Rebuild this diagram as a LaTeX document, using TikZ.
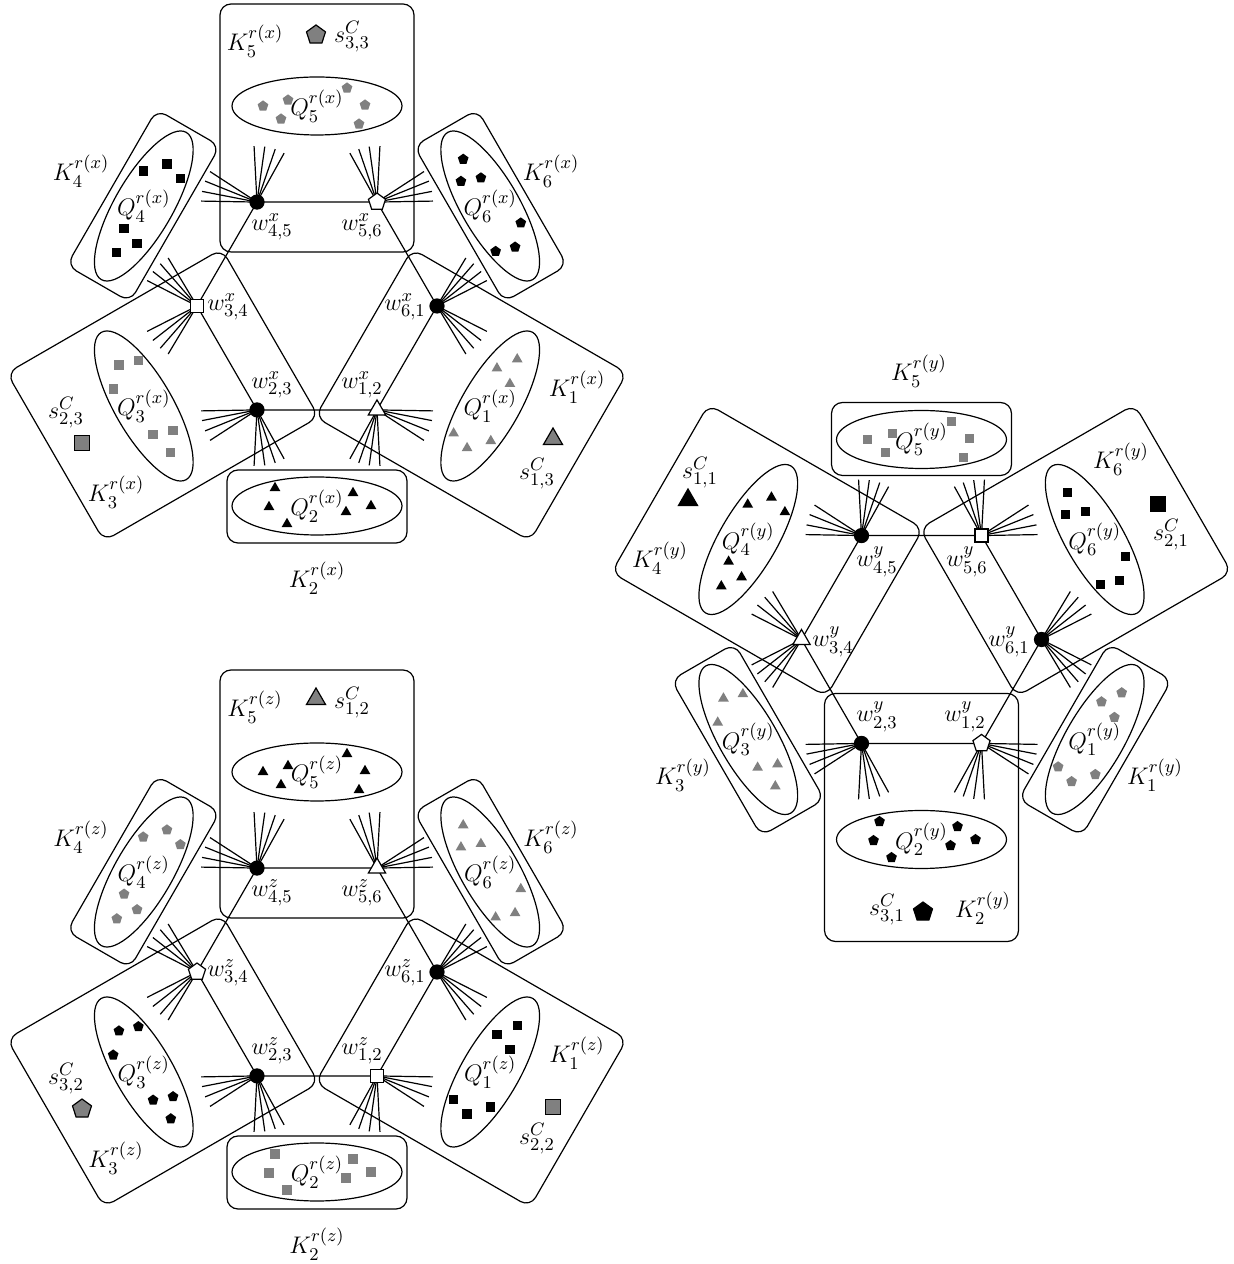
\documentclass[tikz,border=0pt]{standalone}
\usetikzlibrary{shapes.geometric}
\definecolor{mgray}{RGB}{128,128,128}
\tikzset{
  kbox/.style={draw, rounded corners=5.5pt},
  txt/.style={inner sep=0pt, outer sep=0pt},
  mk/.style={inner sep=0pt, outer sep=0pt, draw=none},
  bsq/.style={mk, rectangle, minimum size=4.6pt, fill=black},
  gsq/.style={mk, rectangle, minimum size=4.6pt, fill=mgray},
  bpe/.style={mk, regular polygon, regular polygon sides=5, minimum size=5.6pt, fill=black},
  gpe/.style={mk, regular polygon, regular polygon sides=5, minimum size=5.6pt, fill=mgray},
  btr/.style={mk, regular polygon, regular polygon sides=3, minimum size=6.2pt, fill=black},
  gtr/.style={mk, regular polygon, regular polygon sides=3, minimum size=6.2pt, fill=mgray},
  wdot/.style={circle, fill=black, draw=black, inner sep=0pt, minimum size=7pt},
  wsq/.style={rectangle, draw, fill=white, inner sep=0pt, minimum size=6.5pt},
  wpe/.style={regular polygon, regular polygon sides=5, draw, fill=white, inner sep=0pt, minimum size=9pt},
  wtr/.style={regular polygon, regular polygon sides=3, draw, fill=white, inner sep=0pt, minimum size=10pt},
  sgsq/.style={rectangle, draw, fill=mgray, inner sep=0pt, minimum size=7.5pt},
  sgpe/.style={regular polygon, regular polygon sides=5, draw, fill=mgray, inner sep=0pt, minimum size=10pt},
  sgtr/.style={regular polygon, regular polygon sides=3, draw, fill=mgray, inner sep=0pt, minimum size=11pt},
  sbsq/.style={rectangle, draw, fill=black, inner sep=0pt, minimum size=7.5pt},
  sbpe/.style={regular polygon, regular polygon sides=5, draw, fill=black, inner sep=0pt, minimum size=10pt},
  sbtr/.style={regular polygon, regular polygon sides=3, draw, fill=black, inner sep=0pt, minimum size=11pt},
}
\newcommand\gadget[6]{%
\begin{scope}[shift={#2}]
  \foreach \t in {#3} \draw[kbox, rotate=\t-90] (-97,54) -- (97,54) -- (97,302) -- (-97,302) -- cycle;
  \foreach \t in {#4} \draw[kbox, rotate=\t-90] (-90,164) -- (90,164) -- (90,237) -- (-90,237) -- cycle;
  \foreach \t/\i/\m in {#5} {
    \begin{scope}[rotate=\t-90]
      \draw (0,200) ellipse [x radius=85, y radius=29];
      \foreach \a/\b/\k in {-54/0/1,-29/6/2,-36/-13/3,30/18/4,48/1/5,42/-18/6}
        \node[\m] (#1q\i m\k) at (\a,200+\b) {};
    \end{scope}
    \node[txt] (#1Q\i) at (\t:200) {$Q_{\i}^{r(#1)}$};
  }
  \foreach \n/\t in {45/120,56/60,61/0,12/300,23/240,34/180}
    \coordinate (#1w\n) at (\t:120);
  \draw (#1w45) -- (#1w56) -- (#1w61) -- (#1w12) -- (#1w23) -- (#1w34) -- cycle;
  \foreach \n/\t in {45/120,56/60,61/0,12/300,23/240,34/180}
    \foreach \o in {-59,-49,-38,-27,27,38,49,59}
      \draw (#1w\n) -- +(\t+\o:56);
  \foreach \n/\m in {#6} \node[\m] (#1W\n) at (#1w\n) {};
\end{scope}}
\begin{document}
\begin{tikzpicture}[x=0.5pt, y=0.5pt, line width=0.6pt, font=\fontsize{12.5}{15}\selectfont]
\useasboundingbox (0,0) rectangle (1233,1264);

% ---------------- gadget x ----------------
\gadget{x}{(317,958)}{90,210,330}{30,150,270}%
  {90/5/gpe,150/4/bsq,210/3/gsq,270/2/btr,330/1/gtr,30/6/bpe}%
  {45/wdot,56/wpe,61/wdot,12/wtr,23/wdot,34/wsq}
\node[txt] (xK5) at (255,1223) {$K_5^{r(x)}$};
\node[sgpe] (xs33) at (316,1229) {};
\node[txt] (xs33l) at (352,1227) {$s_{3,3}^C$};
\node[txt] (xK4) at (81,1093) {$K_4^{r(x)}$};
\node[txt] (xK6) at (551,1093) {$K_6^{r(x)}$};
\node[txt] (xK3) at (116,772) {$K_3^{r(x)}$};
\node[txt] (xK1) at (577,877) {$K_1^{r(x)}$};
\node[txt] (xK2) at (317,686) {$K_2^{r(x)}$};
\node[sgsq] (xs23) at (82,821) {};
\node[txt] (xs23l) at (66,851) {$s_{2,3}^C$};
\node[sgtr] (xs13) at (553,825) {};
\node[txt] (xs13l) at (537,790) {$s_{1,3}^C$};
\node[txt] (xl45) at (272,1037) {$w^x_{4,5}$};
\node[txt] (xl56) at (362,1037) {$w^x_{5,6}$};
\node[txt] (xl34) at (228,957) {$w^x_{3,4}$};
\node[txt] (xl61) at (405,957) {$w^x_{6,1}$};
\node[txt] (xl23) at (272,879) {$w^x_{2,3}$};
\node[txt] (xl12) at (362,879) {$w^x_{1,2}$};

% ---------------- gadget z ----------------
\gadget{z}{(317,292)}{90,210,330}{30,150,270}%
  {90/5/btr,150/4/gpe,210/3/bpe,270/2/gsq,330/1/bsq,30/6/gtr}%
  {45/wdot,56/wtr,61/wdot,12/wsq,23/wdot,34/wpe}
\node[txt] (zK5) at (255,557) {$K_5^{r(z)}$};
\node[sgtr] (zs12) at (316,565) {};
\node[txt] (zs12l) at (352,561) {$s_{1,2}^C$};
\node[txt] (zK4) at (81,427) {$K_4^{r(z)}$};
\node[txt] (zK6) at (551,427) {$K_6^{r(z)}$};
\node[txt] (zK3) at (116,106) {$K_3^{r(z)}$};
\node[txt] (zK1) at (577,211) {$K_1^{r(z)}$};
\node[txt] (zK2) at (317,20) {$K_2^{r(z)}$};
\node[sgpe] (zs32) at (82,155) {};
\node[txt] (zs32l) at (66,185) {$s_{3,2}^C$};
\node[sgsq] (zs22) at (553,157) {};
\node[txt] (zs22l) at (537,125) {$s_{2,2}^C$};
\node[txt] (zl45) at (272,371) {$w^z_{4,5}$};
\node[txt] (zl56) at (362,371) {$w^z_{5,6}$};
\node[txt] (zl34) at (228,291) {$w^z_{3,4}$};
\node[txt] (zl61) at (405,291) {$w^z_{6,1}$};
\node[txt] (zl23) at (272,213) {$w^z_{2,3}$};
\node[txt] (zl12) at (362,213) {$w^z_{1,2}$};

% ---------------- gadget y ----------------
\gadget{y}{(921.5,624.5)}{30,150,270}{90,210,330}%
  {90/5/gsq,150/4/btr,210/3/gtr,270/2/bpe,330/1/gpe,30/6/bsq}%
  {45/wdot,56/wsq,61/wdot,12/wpe,23/wdot,34/wtr}
\node[txt] (yK5) at (919,893) {$K_5^{r(y)}$};
\node[txt] (yK4) at (660,706) {$K_4^{r(y)}$};
\node[txt] (yK6) at (1121,805) {$K_6^{r(y)}$};
\node[txt] (yK3) at (683,489) {$K_3^{r(y)}$};
\node[txt] (yK1) at (1155,489) {$K_1^{r(y)}$};
\node[txt] (yK2) at (983,356) {$K_2^{r(y)}$};
\node[sbpe] (ys31) at (923,352) {};
\node[txt] (ys31l) at (887,354) {$s_{3,1}^C$};
\node[sbtr] (ys11) at (688,764) {};
\node[txt] (ys11l) at (700,791) {$s_{1,1}^C$};
\node[sbsq] (ys21) at (1158,760) {};
\node[txt] (ys21l) at (1171,729) {$s_{2,1}^C$};
\node[txt] (yl45) at (877,702) {$w^y_{4,5}$};
\node[txt] (yl56) at (967,702) {$w^y_{5,6}$};
\node[txt] (yl34) at (833,622) {$w^y_{3,4}$};
\node[txt] (yl61) at (1009,622) {$w^y_{6,1}$};
\node[txt] (yl23) at (877,547) {$w^y_{2,3}$};
\node[txt] (yl12) at (965,547) {$w^y_{1,2}$};
\end{tikzpicture}
\end{document}
